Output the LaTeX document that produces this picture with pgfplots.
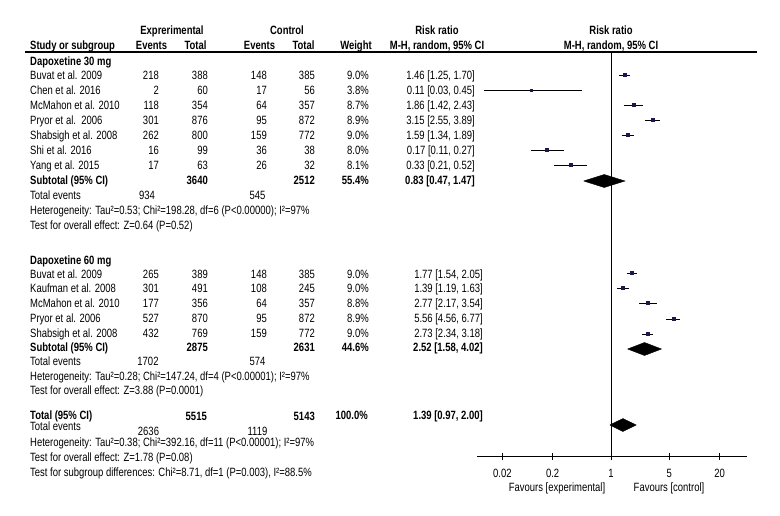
\documentclass[border=0pt]{standalone}
\usepackage{pgfplots}
\pgfplotsset{compat=1.18}
\usepackage{fontspec}
\setmainfont{Liberation Sans}[FakeStretch=0.79]
\definecolor{mk}{rgb}{0.1,0.1,0.3}
\newcommand\fs{\fontsize{12bp}{14bp}\selectfont}
\tikzset{
 t/.style={inner sep=0pt, text height=8.5bp, text depth=0pt, font=\fs},
 L/.style={t, anchor=west},
 R/.style={t, anchor=east},
 C/.style={t, anchor=center},
}
\newcommand\TL[3]{\node[L] at (#1bp,-#2bp) {#3};}
\newcommand\TR[3]{\node[R] at (#1bp,-#2bp) {#3};}
\newcommand\TC[3]{\node[C] at (#1bp,-#2bp) {#3};}
\newcommand\Row[9]{\TL{30}{#1}{#2}\TR{159}{#1}{#3}\TR{208}{#1}{#4}\TR{267}{#1}{#5}\TR{315}{#1}{#6}\TR{369}{#1}{#7}\TR{#9}{#1}{#8}}
\begin{document}
\begin{tikzpicture}
\useasboundingbox (0,0) rectangle (780bp,-516bp);
\begin{axis}[
  at={(477bp,-456bp)}, anchor=south west,
  scale only axis, width=270bp, height=404bp,
  xmode=log, log basis x=10,
  xmin=0.02484, xmax=42.53, ymin=-456, ymax=-52,
  axis x line*=bottom, axis y line=none,
  axis line style={line width=0.8bp, black},
  xtick={0.05,0.2,1,5,20},
  xticklabels={\textrm{0.02},\textrm{0.2},\textrm{1},\textrm{5},\textrm{20}},
  minor xtick={},
  tick align=center, major tick length=7bp,
  tick style={line width=0.8bp, black},
  xticklabel style={font=\fs, inner sep=0pt, text height=8.5bp, text depth=0pt, anchor=center, yshift=-14bp},
  clip=false,
]
% reference line at RR = 1
\addplot[black, line width=0.8bp] coordinates {(1,-52) (1,-456)};
% confidence intervals, Dapoxetine 30 mg
\addplot[black, line width=0.8bp] coordinates {(1.25,-75) (1.70,-75)};
\addplot[black, line width=0.8bp] coordinates {(0.03,-90) (0.45,-90)};
\addplot[black, line width=0.8bp] coordinates {(1.42,-105) (2.43,-105)};
\addplot[black, line width=0.8bp] coordinates {(2.55,-120) (3.89,-120)};
\addplot[black, line width=0.8bp] coordinates {(1.34,-135) (1.89,-135)};
\addplot[black, line width=0.8bp] coordinates {(0.11,-150) (0.27,-150)};
\addplot[black, line width=0.8bp] coordinates {(0.21,-165) (0.52,-165)};
% confidence intervals, Dapoxetine 60 mg
\addplot[black, line width=0.8bp] coordinates {(1.54,-273) (2.05,-273)};
\addplot[black, line width=0.8bp] coordinates {(1.19,-288) (1.63,-288)};
\addplot[black, line width=0.8bp] coordinates {(2.17,-303) (3.54,-303)};
\addplot[black, line width=0.8bp] coordinates {(4.56,-319) (6.77,-319)};
\addplot[black, line width=0.8bp] coordinates {(2.34,-334) (3.18,-334)};
% point estimates
\addplot[only marks, mark=square*, mark size=1.5bp, mk] coordinates {
 (1.46,-75) (1.86,-105) (3.15,-120) (1.59,-135) (0.17,-150) (0.33,-165)
 (1.77,-273) (1.39,-288) (2.77,-303) (5.56,-319) (2.73,-334)};
\addplot[only marks, mark=square*, mark size=1.2bp, mk] coordinates {(0.11,-90)};
% diamonds
\addplot[fill=black, draw=black] coordinates {(0.47,-181) (0.83,-174.5) (1.47,-181) (0.83,-187.5) (0.47,-181)};
\addplot[fill=black, draw=black] coordinates {(1.58,-349) (2.52,-342.5) (4.02,-349) (2.52,-355.5) (1.58,-349)};
\addplot[fill=black, draw=black] coordinates {(0.97,-425) (1.39,-418.5) (2.00,-425) (1.39,-431.5) (0.97,-425)};
\end{axis}
% header
\TC{172}{30}{\bfseries Exprerimental}
\TC{287}{30}{\bfseries Control}
\TC{437}{30}{\bfseries Risk ratio}
\TC{611}{30}{\bfseries Risk ratio}
\TL{30}{45}{\bfseries Study or subgroup}
\TC{151.5}{45}{\bfseries Events}
\TC{195.5}{45}{\bfseries Total}
\TC{259.5}{45}{\bfseries Events}
\TC{303.5}{45}{\bfseries Total}
\TC{356}{45}{\bfseries Weight}
\TC{437}{45}{\bfseries M-H, random, 95\% CI}
\TC{611}{45}{\bfseries M-H, random, 95\% CI}
\draw[line width=1.5bp] (25bp,-52bp) -- (757bp,-52bp);
% Dapoxetine 30 mg
\TL{30}{61}{\bfseries Dapoxetine 30 mg}
\Row{75}{Buvat et al. 2009}{218}{388}{148}{385}{9.0\%}{1.46 [1.25, 1.70]}{475}
\Row{90}{Chen et al. 2016}{2}{60}{17}{56}{3.8\%}{0.11 [0.03, 0.45]}{475}
\Row{105}{McMahon et al. 2010}{118}{354}{64}{357}{8.7\%}{1.86 [1.42, 2.43]}{475}
\Row{120}{Pryor et al.\ \ 2006}{301}{876}{95}{872}{8.9\%}{3.15 [2.55, 3.89]}{475}
\Row{135}{Shabsigh et al. 2008}{262}{800}{159}{772}{9.0\%}{1.59 [1.34, 1.89]}{475}
\Row{150}{Shi et al. 2016}{16}{99}{36}{38}{8.0\%}{0.17 [0.11, 0.27]}{475}
\Row{165}{Yang et al. 2015}{17}{63}{26}{32}{8.1\%}{0.33 [0.21, 0.52]}{475}
\TL{30}{180}{\bfseries Subtotal (95\% CI)}
\TR{208}{180}{\bfseries 3640}
\TR{315}{180}{\bfseries 2512}
\TR{369}{180}{\bfseries 55.4\%}
\TR{475}{180}{\bfseries 0.83 [0.47, 1.47]}
\TL{30}{195}{Total events}
\TC{147}{195}{934}
\TC{257.5}{195}{545}
\TL{30}{210}{Heterogeneity: Tau²=0.53; Chi²=198.28, df=6 (P<0.00000); I²=97\%}
\TL{30}{225}{Test for overall effect: Z=0.64 (P=0.52)}
% Dapoxetine 60 mg
\TL{30}{260}{\bfseries Dapoxetine 60 mg}
\Row{274}{Buvat et al. 2009}{265}{389}{148}{385}{9.0\%}{1.77 [1.54, 2.05]}{483}
\Row{288}{Kaufman et al. 2008}{301}{491}{108}{245}{9.0\%}{1.39 [1.19, 1.63]}{483}
\Row{303}{McMahon et al. 2010}{177}{356}{64}{357}{8.8\%}{2.77 [2.17, 3.54]}{483}
\Row{318}{Pryor et al. 2006}{527}{870}{95}{872}{8.9\%}{5.56 [4.56, 6.77]}{483}
\Row{333}{Shabsigh et al. 2008}{432}{769}{159}{772}{9.0\%}{2.73 [2.34, 3.18]}{483}
\TL{30}{347}{\bfseries Subtotal (95\% CI)}
\TR{208}{347}{\bfseries 2875}
\TR{315}{347}{\bfseries 2631}
\TR{369}{347}{\bfseries 44.6\%}
\TR{483}{347}{\bfseries 2.52 [1.58, 4.02]}
\TL{30}{361}{Total events}
\TC{148}{361}{1702}
\TC{257.5}{361}{574}
\TL{30}{376}{Heterogeneity: Tau²=0.28; Chi²=147.24, df=4 (P<0.00001); I²=97\%}
\TL{30}{390}{Test for overall effect: Z=3.88 (P=0.0001)}
% Total
\TL{30}{415}{\bfseries Total (95\% CI)}
\TR{207}{416}{\bfseries 5515}
\TR{315}{416}{\bfseries 5143}
\TR{368}{415}{\bfseries 100.0\%}
\TR{483}{415}{\bfseries 1.39 [0.97, 2.00]}
\TL{30}{426}{Total events}
\TC{148.5}{431}{2636}
\TC{257.5}{431}{1119}
\TL{30}{442}{Heterogeneity: Tau²=0.38; Chi²=392.16, df=11 (P<0.00001); I²=97\%}
\TL{30}{457}{Test for overall effect: Z=1.78 (P=0.08)}
\TL{30}{472}{Test for subgroup differences: Chi²=8.71, df=1 (P=0.003), I²=88.5\%}
% favours labels
\TC{557}{487}{Favours [experimental]}
\TC{669}{487}{Favours [control]}
\end{tikzpicture}
\end{document}
